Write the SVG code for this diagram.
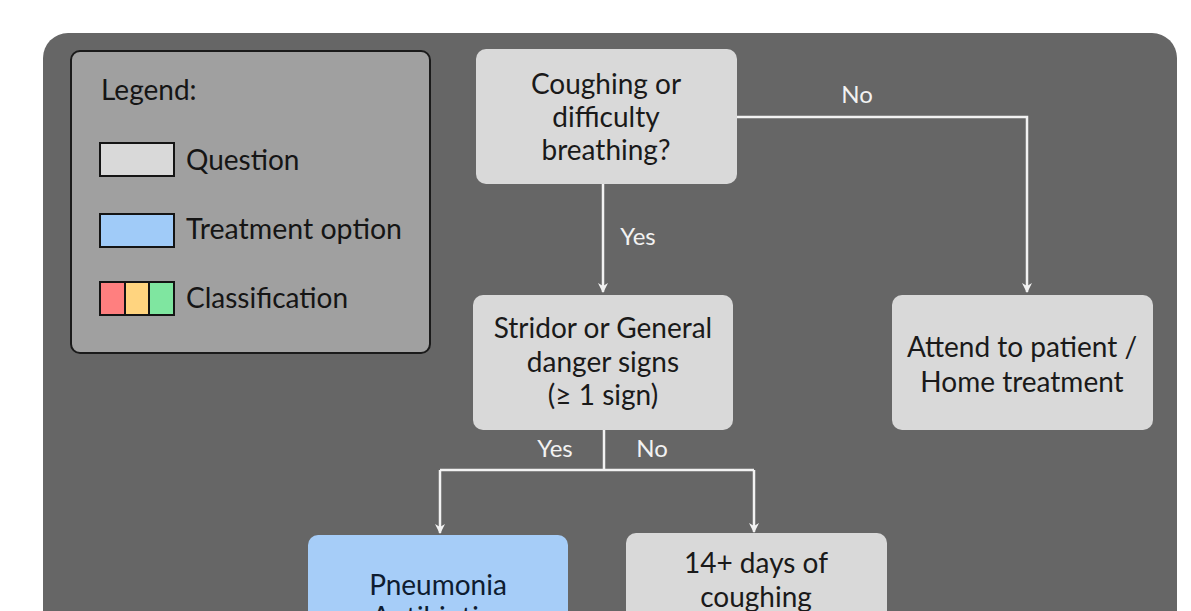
<svg xmlns="http://www.w3.org/2000/svg" width="1191" height="611" viewBox="0 0 1191 611">
  <defs>
    <marker id="arr" viewBox="0 0 10 12" refX="9" refY="6" markerWidth="10" markerHeight="12" markerUnits="userSpaceOnUse" orient="auto">
      <path d="M0,1 L10,6 L0,11 L3,6 Z" fill="#f2f2f2"/>
    </marker>
    <style>
      .node { fill: #d9d9d9; }
      .treat { fill: #a6cdf8; }
      .ntext { font-family: Lato, "Open Sans", sans-serif; font-size: 28px; fill: #1a1a1a; text-anchor: middle; }
      .ttext { font-family: Lato, "Open Sans", sans-serif; font-size: 28px; fill: #0e1c30; text-anchor: middle; }
      .ltext { font-family: Lato, "Open Sans", sans-serif; font-size: 28px; fill: #151515; }
      .lab { font-family: Lato, "Open Sans", sans-serif; font-size: 24px; fill: #f2f2f2; text-anchor: middle; }
      .conn { fill: none; stroke: #f2f2f2; stroke-width: 2.5; }
      .sw { stroke: #141414; stroke-width: 2; }
    </style>
  </defs>
  <rect x="0" y="0" width="1191" height="611" fill="#ffffff"/>
  <rect x="43" y="33" width="1134" height="640" rx="25" fill="#666666"/>

  <g id="legend">
    <rect x="71" y="51" width="359" height="302" rx="9" fill="#a0a0a0" stroke="#1a1a1a" stroke-width="2"/>
    <text class="ltext" x="101" y="100">Legend:</text>
    <rect class="sw" x="100" y="143" width="74" height="33" fill="#d9d9d9"/>
    <text class="ltext" x="186" y="170">Question</text>
    <rect class="sw" x="100" y="214" width="74" height="33" fill="#a0cbf8"/>
    <text class="ltext" x="186" y="239" style="font-size:28.5px">Treatment option</text>
    <rect class="sw" x="100" y="282" width="25" height="33" fill="#ff7f7f"/>
    <rect class="sw" x="125" y="282" width="24" height="33" fill="#ffd47f"/>
    <rect class="sw" x="149" y="282" width="25" height="33" fill="#7fe6a0"/>
    <text class="ltext" x="186" y="308">Classification</text>
  </g>

  <g id="connectors">
    <path class="conn" d="M603,184 V292" marker-end="url(#arr)"/>
    <path class="conn" d="M737,117 H1027 V292" marker-end="url(#arr)"/>
    <path class="conn" d="M604,430 V470"/>
    <path class="conn" d="M440,470 H754"/>
    <path class="conn" d="M440,470 V533" marker-end="url(#arr)"/>
    <path class="conn" d="M754,470 V532" marker-end="url(#arr)"/>
    <text class="lab" x="638" y="245">Yes</text>
    <text class="lab" x="857" y="103">No</text>
    <text class="lab" x="555" y="457">Yes</text>
    <text class="lab" x="652" y="457">No</text>
  </g>

  <g id="n-cough">
    <rect class="node" x="476" y="49" width="261" height="135" rx="10"/>
    <text class="ntext" x="606" y="94">Coughing or</text>
    <text class="ntext" x="606" y="127">difficulty</text>
    <text class="ntext" x="606" y="160">breathing?</text>
  </g>

  <g id="n-stridor">
    <rect class="node" x="473" y="295" width="260" height="135" rx="10"/>
    <text class="ntext" x="603" y="338">Stridor or General</text>
    <text class="ntext" x="603" y="372">danger signs</text>
    <text class="ntext" x="603" y="405">(≥ 1 sign)</text>
  </g>

  <g id="n-attend">
    <rect class="node" x="892" y="295" width="261" height="135" rx="10"/>
    <text class="ntext" x="1022" y="357">Attend to patient /</text>
    <text class="ntext" x="1022" y="392">Home treatment</text>
  </g>

  <g id="n-pneumonia">
    <rect class="treat" x="308" y="535" width="260" height="135" rx="10"/>
    <text class="ttext" x="438" y="595">Pneumonia</text>
    <text class="ttext" x="438" y="627">Antibiotics</text>
  </g>

  <g id="n-14days">
    <rect class="node" x="626" y="533" width="261" height="135" rx="10"/>
    <text class="ntext" x="756" y="573">14+ days of</text>
    <text class="ntext" x="756" y="607">coughing</text>
  </g>
</svg>
